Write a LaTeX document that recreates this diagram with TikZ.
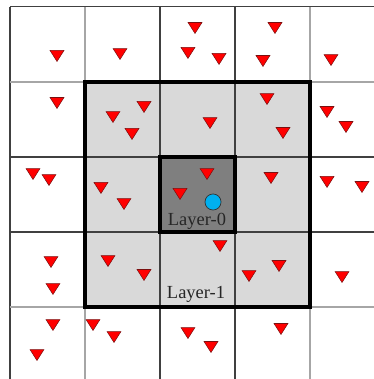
\documentclass[tikz,border=0pt]{standalone}
\usepackage{fontspec}
\setmainfont{Liberation Serif}
\usepackage{tikz}
\usetikzlibrary{calc}
\definecolor{layerone}{HTML}{D9D9D9}
\definecolor{layerzero}{HTML}{7F7F7F}
\definecolor{gridline}{HTML}{404040}
\definecolor{ringline}{HTML}{A6A6A6}
\definecolor{sensor}{HTML}{FF0000}
\definecolor{sensorline}{HTML}{7A1010}
\definecolor{sink}{HTML}{00B0F0}

\begin{document}
\begin{tikzpicture}[x=1.5cm,y=1.5cm]
  \useasboundingbox (-0.133,0.04) rectangle (4.853,5.093);
  \clip (-0.133,0.04) rectangle (4.853,5.093);
  % Layers
  \fill[layerone] (1,1) rectangle (4,4);
  \fill[layerzero] (2,2) rectangle (3,3);
  % Grid
  \foreach \i in {0,...,4} {
    \draw[gridline,line width=0.6pt] (\i,-0.5) -- (\i,5);
    \draw[gridline,line width=0.6pt] (0,5-\i) -- (5.5,5-\i);
  }
  \draw[ringline,line width=1pt] (1,4) -- (1,5) (4,4) -- (4,5)
    (1,1) -- (1,-0.2) (4,1) -- (4,-0.2)
    (0,4) -- (1,4) (4,4) -- (5.2,4)
    (0,1) -- (1,1) (4,1) -- (5.2,1);
  \draw[black,line width=2pt] (1,1) rectangle (4,4);
  \draw[black,line width=2.2pt] (2,2) rectangle (3,3);
  % Sensors
  \foreach \x/\y in {0.627/4.347, 1.467/4.373, 2.467/4.72, 2.373/4.387,
      2.787/4.307, 3.533/4.72, 3.373/4.28, 4.28/4.293,
      0.627/3.72, 1.373/3.533, 1.787/3.667, 1.627/3.307, 2.667/3.453,
      3.427/3.773, 3.64/3.32, 4.227/3.6, 4.48/3.4,
      0.307/2.773, 0.52/2.693, 1.213/2.587, 1.52/2.373, 2.627/2.773,
      2.267/2.507, 3.48/2.72, 4.227/2.667, 4.693/2.6,
      0.547/1.6, 0.573/1.24, 1.307/1.613, 1.787/1.427, 2.8/1.813,
      3.187/1.413, 3.587/1.547, 4.427/1.4,
      0.573/0.76, 0.36/0.36, 1.107/0.76, 1.387/0.6, 2.373/0.653,
      2.68/0.467, 3.613/0.707}
    \filldraw[fill=sensor,draw=sensorline,line width=0.3pt]
      (\x-0.093,\y+0.073) -- (\x+0.093,\y+0.073) -- (\x,\y-0.073) -- cycle;
  % Sink
  \filldraw[fill=sink,draw=black!80,line width=0.4pt] (2.707,2.4) circle (0.107);
  % Labels
  \node[font=\fontsize{10.5}{12}\selectfont,text=black!85] (l0) at (2.493,2.14) {Layer-0};
  \node[font=\fontsize{10.5}{12}\selectfont,text=black!85] (l1) at (2.48,1.166) {Layer-1};
\end{tikzpicture}
\end{document}
